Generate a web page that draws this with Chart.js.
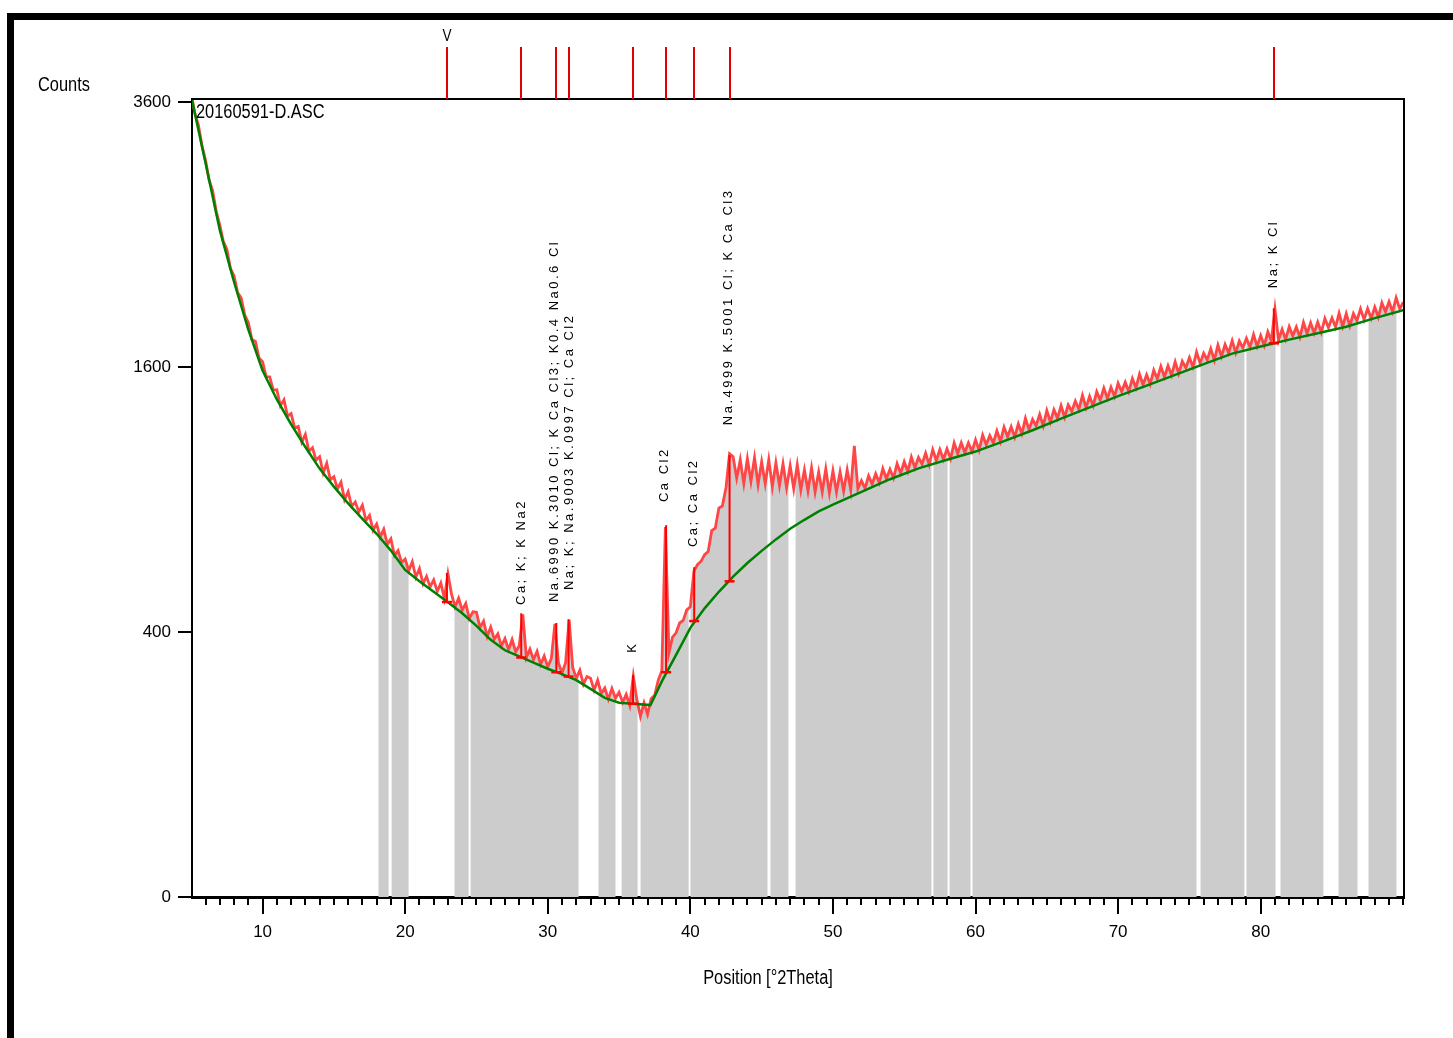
<!DOCTYPE html>
<html>
<head>
<meta charset="utf-8">
<script src="https://cdn.jsdelivr.net/npm/chart.js@4.4.1/dist/chart.umd.min.js"></script>
<style>
    html, body { margin: 0; padding: 0; background: #fff; }
    #frame {
        position: absolute; left: 7px; top: 13px; width: 1446px; height: 1025px;
        border-top: 7px solid #000; border-left: 7px solid #000; box-sizing: border-box;
    }
    #xrdChart { position: absolute; left: 0; top: 0; }
</style>
</head>
<body>
<div id="frame"></div>
<canvas id="xrdChart" width="1453" height="1038"></canvas>
<script>
// Scan: counts every 0.25 deg 2Theta, from 5.00 to 90.00
const scanStart = 5.0;
const scanStep = 0.25;
const scanCounts = [
    3677, 3500, 3396, 3219,  3093, 2930, 2842, 2678,  2573, 2448, 2391, 2250,  2198, 2083, 2045, 1930,
    1881, 1771, 1759, 1656,  1634, 1544, 1543, 1465,  1467, 1376, 1409, 1318,  1332, 1255, 1262, 1179,
    1220, 1132, 1151, 1088,  1105, 1025, 1072, 992,   1007, 949, 981, 900,     936, 870, 889, 845,
    875, 808, 830, 767,      793, 739, 771, 709,      731, 665, 684, 638,      651, 607, 641, 583,
    615, 559, 586, 548,      573, 532, 562, 508,      595, 523, 480, 509,      469, 491, 442, 464,
    462, 414, 434, 387,      415, 379, 395, 359,      381, 349, 378, 343,      360, 455, 327, 350,
    321, 344, 308, 331,      302, 324, 425, 312,      286, 313, 438, 300,      273, 293, 258, 277,
    273, 244, 268, 236,      249, 223, 248, 225,      239, 216, 234, 209,      278, 222, 186, 215,
    190, 224, 232, 268,      292, 780, 340, 385,      398, 428, 436, 470,      480, 605, 630, 642,
    668, 680, 765, 775,      862, 872, 955, 1120,     1105, 1000, 1090, 975,   1095, 985, 1100, 970,
    1080, 975, 1090, 960,    1075, 965, 1070, 955,    1060, 950, 1065, 945,    1040, 940, 1050, 935,
    1030, 935, 1045, 930,    1035, 935, 1030, 940,    1040, 945, 1160, 950,    988, 952, 1011, 972,
    1021, 978, 1046, 997,    1043, 1001, 1070, 1024,  1080, 1032, 1103, 1050,  1101, 1068, 1123, 1065,
    1141, 1086, 1141, 1091,  1145, 1095, 1175, 1121,  1176, 1126, 1176, 1131,  1192, 1138, 1216, 1166,
    1214, 1175, 1238, 1183,  1258, 1208, 1261, 1205,  1276, 1224, 1306, 1245,  1300, 1266, 1327, 1265,
    1349, 1286, 1354, 1307,  1376, 1312, 1381, 1345,  1402, 1355, 1435, 1365,  1429, 1375, 1456, 1407,
    1476, 1417, 1481, 1428,  1504, 1456, 1511, 1456,  1533, 1478, 1558, 1496,  1555, 1499, 1582, 1531,
    1605, 1542, 1609, 1552,  1632, 1562, 1636, 1596,  1659, 1601, 1693, 1623,  1686, 1645, 1714, 1643,
    1736, 1665, 1740, 1687,  1764, 1689, 1762, 1719,  1779, 1723, 1804, 1728,  1797, 1734, 1821, 1764,
    1970, 1768, 1837, 1772,  1854, 1795, 1852, 1787,  1882, 1810, 1879, 1813,  1884, 1817, 1908, 1848,
    1911, 1851, 1942, 1856,  1940, 1860, 1940, 1893,  1972, 1900, 1974, 1909,  1984, 1917, 2012, 1952,
    2020, 1953, 2046, 1970,  2017
];

// Background (green)
const bgPos = [5.05, 6, 7, 8, 9, 10, 11, 12, 13, 14, 15, 16, 17, 18, 19, 20, 21, 22, 23, 24, 25, 26, 27, 28, 29, 30,
    31, 32, 33, 34, 35, 36, 37.2, 38, 39, 40, 41, 42, 43, 44, 45, 46, 47, 48, 49, 50, 52, 54, 56, 58, 60, 62, 64,
    66, 68, 70, 72, 74, 76, 78, 80, 82, 84, 86, 88, 90.05];
const bgCounts = [3620, 3071, 2535, 2156, 1835, 1580, 1411, 1274, 1154, 1046, 960, 883, 815, 752, 684, 610, 568, 531,
    495, 459, 419, 377, 347, 330, 313, 297, 283, 268, 247, 226, 215, 213, 210, 265, 334, 413, 475, 531, 585, 636, 683,
    729, 773, 811, 848, 878, 936, 995, 1047, 1090, 1131, 1185, 1242, 1304, 1367, 1430, 1491, 1554, 1619, 1683, 1728,
    1771, 1812, 1854, 1910, 1965];

// Peak list
const peakPos = [22.93, 28.14, 30.6, 31.46, 35.98, 38.3, 40.27, 42.75, 80.92];
const peakBase = [496, 327, 288, 277, 213, 288, 434, 568, 1748];
const peakTop = [598, 459, 428, 440, 281, 788, 620, 1113, 1976];

// Phase labels above peaks
const labelTexts = ['Ca; K; K Na2', 'Na.6990 K.3010 Cl; K Ca Cl3; K0.4 Na0.6 Cl', 'Na; K; Na.9003 K.0997 Cl; Ca Cl2',
    'K', 'Ca Cl2', 'Ca; Ca Cl2', 'Na.4999 K.5001 Cl; K Ca Cl3', 'Na; K Cl'];
const labelPos = [28.16, 30.45, 31.5, 35.95, 38.2, 40.25, 42.7, 80.9];
const labelCounts = [486, 496, 537, 340, 889, 698, 1269, 2113];

// Shaded (grey) ranges
const grayStart = [18.13, 19.05, 23.46, 24.59, 33.56, 35.18, 36.51, 40.01, 45.62, 47.38, 57.05, 58.18, 59.79, 75.78, 79.0, 81.39, 85.46, 87.56];
const grayEnd = [18.84, 20.24, 24.45, 32.16, 34.75, 36.30, 39.88, 45.41, 46.88, 56.91, 58.04, 59.65, 75.50, 78.86, 81.04, 84.40, 86.79, 89.52];

const yTickValues = [0, 400, 1600, 3600];
const xTickValues = [];
for (let v = 6; v <= 90; v++) xTickValues.push(v);

const FONT = "'Liberation Sans', Arial, sans-serif";

// Square-root count axis
class SqrtScale extends Chart.LinearScale {
    static id = 'sqrt';
    static defaults = Chart.LinearScale.defaults;
    configure() {
        super.configure();
        this._startValue = Math.sqrt(Math.max(this.min, 0));
        this._valueRange = Math.sqrt(this.max) - this._startValue;
    }
    getPixelForValue(value) {
        return this.getPixelForDecimal((Math.sqrt(Math.max(value, 0)) - this._startValue) / this._valueRange);
    }
    getValueForPixel(pixel) {
        const s = this._startValue + this.getDecimalForPixel(pixel) * this._valueRange;
        return s * s;
    }
}
Chart.register(SqrtScale);

// Clip the grey fill to the shaded ranges (registered before Filler so it runs first)
const grayClip = {
    id: 'grayClip',
    beforeDatasetDraw(chart, args) {
        if (chart.data.datasets[args.index].label !== 'gray') return;
        const ctx = chart.ctx, xs = chart.scales.x, a = chart.chartArea;
        ctx.save();
        ctx.beginPath();
        grayStart.forEach((s, i) => {
            const x1 = xs.getPixelForValue(s), x2 = xs.getPixelForValue(grayEnd[i]);
            ctx.rect(x1, a.top, x2 - x1, a.bottom - a.top);
        });
        ctx.clip();
    },
    afterDatasetDraw(chart, args) {
        if (chart.data.datasets[args.index].label === 'gray') chart.ctx.restore();
    }
};
Chart.unregister(Chart.Filler);
Chart.register(grayClip);
Chart.register(Chart.Filler);

const scanPoints = scanCounts.map((c, i) => ({ x: scanStart + i * scanStep, y: c }));
const bgPoints = bgPos.map((p, i) => ({ x: p, y: bgCounts[i] }));
const stickPoints = [];
peakPos.forEach((p, i) => {
    stickPoints.push({ x: p, y: peakBase[i] }, { x: p, y: peakTop[i] }, { x: p, y: null });
});
const basePoints = peakPos.map((p, i) => ({ x: p, y: peakBase[i] }));

// condensed text helper
function narrowText(ctx, text, x, y, size, squeeze) {
    ctx.save();
    ctx.translate(x, y);
    ctx.scale(squeeze, 1);
    ctx.font = size + 'px ' + FONT;
    ctx.fillText(text, 0, 0);
    ctx.restore();
}

// Frame, marker lines and labels
const xrdDecor = {
    id: 'xrdDecor',
    afterDraw(chart) {
        const ctx = chart.ctx, xs = chart.scales.x, ys = chart.scales.y, a = chart.chartArea;
        ctx.save();
        ctx.strokeStyle = '#000';
        ctx.lineWidth = 2;
        ctx.beginPath();
        ctx.moveTo(a.left, a.top);
        ctx.lineTo(a.right, a.top);
        ctx.lineTo(a.right, a.bottom);
        ctx.stroke();

        // longer major ticks
        ctx.beginPath();
        xTickValues.forEach(v => {
            if (v % 10 !== 0 || v >= 90) return;
            const px = Math.round(xs.getPixelForValue(v));
            ctx.moveTo(px, a.bottom);
            ctx.lineTo(px, a.bottom + 17);
        });
        ctx.stroke();

        // reference markers above the plot
        ctx.strokeStyle = 'rgb(225,0,0)';
        ctx.beginPath();
        peakPos.forEach(p => {
            const px = Math.round(xs.getPixelForValue(p));
            ctx.moveTo(px, 47);
            ctx.lineTo(px, a.top);
        });
        ctx.stroke();

        ctx.fillStyle = '#000';
        ctx.textBaseline = 'middle';
        ctx.textAlign = 'left';
        narrowText(ctx, 'Counts', 38, 85, 20, 0.82);
        narrowText(ctx, '20160591-D.ASC', a.left + 4, a.top + 13, 20, 0.82);
        ctx.textAlign = 'center';
        narrowText(ctx, 'Position [°2Theta]', 768, 978, 20, 0.82);
        narrowText(ctx, 'V', xs.getPixelForValue(peakPos[0]), 37, 16, 0.85);

        // rotated phase labels
        ctx.font = '13px ' + FONT;
        ctx.letterSpacing = '2.5px';
        ctx.textAlign = 'left';
        labelTexts.forEach((t, i) => {
            ctx.save();
            ctx.translate(xs.getPixelForValue(labelPos[i]), ys.getPixelForValue(labelCounts[i]));
            ctx.rotate(-Math.PI / 2);
            ctx.fillText(t, 0, 0);
            ctx.restore();
        });
        ctx.restore();
    }
};

const ctx = document.getElementById('xrdChart').getContext('2d');
const xrdChart = new Chart(ctx, {
    type: 'line',
    data: {
        datasets: [
            {
                label: 'gray',
                data: scanPoints,
                fill: 'origin',
                backgroundColor: 'rgb(204,204,204)',
                borderWidth: 0,
                order: 5
            },
            {
                label: 'scan',
                data: scanPoints,
                borderColor: 'rgb(255,70,70)',
                borderWidth: 2.8,
                fill: false,
                order: 4
            },
            {
                label: 'background',
                data: bgPoints,
                borderColor: 'rgb(0,128,0)',
                borderWidth: 2.5,
                fill: false,
                order: 3
            },
            {
                label: 'sticks',
                data: stickPoints,
                borderColor: 'rgb(255,0,0)',
                borderWidth: 2,
                spanGaps: false,
                fill: false,
                order: 2
            },
            {
                label: 'bases',
                data: basePoints,
                showLine: false,
                pointStyle: 'line',
                pointRadius: 5,
                borderColor: 'rgb(255,0,0)',
                borderWidth: 2.5,
                order: 1
            }
        ]
    },
    options: {
        responsive: false,
        animation: false,
        events: [],
        layout: { padding: { left: 130, right: 49, top: 99, bottom: 0 } },
        elements: {
            line: { tension: 0 },
            point: { radius: 0 }
        },
        plugins: {
            legend: { display: false },
            tooltip: { enabled: false }
        },
        scales: {
            x: {
                type: 'linear',
                min: 5.05,
                max: 90.05,
                bounds: 'data',
                afterFit: axis => { axis.height = 141; },
                afterBuildTicks: axis => { axis.ticks = xTickValues.map(v => ({ value: v })); },
                border: { color: '#000', width: 3 },
                grid: { drawOnChartArea: false, drawTicks: true, tickLength: 8, color: '#000', lineWidth: 2 },
                ticks: {
                    autoSkip: false,
                    maxRotation: 0,
                    padding: 17,
                    color: '#000',
                    font: { family: FONT, size: 17 },
                    callback: v => (v % 10 === 0 && v < 90 ? String(v) : '')
                }
            },
            y: {
                type: 'sqrt',
                min: 0,
                max: 3630,
                bounds: 'data',
                afterFit: axis => { axis.width = 62; },
                afterBuildTicks: axis => { axis.ticks = yTickValues.map(v => ({ value: v })); },
                border: { color: '#000', width: 2 },
                grid: { drawOnChartArea: false, drawTicks: true, tickLength: 14, color: '#000', lineWidth: 2 },
                ticks: {
                    padding: 7,
                    color: '#000',
                    font: { family: FONT, size: 17 },
                    callback: v => String(v)
                }
            }
        }
    },
    plugins: [xrdDecor]
});
</script>
</body>
</html>
